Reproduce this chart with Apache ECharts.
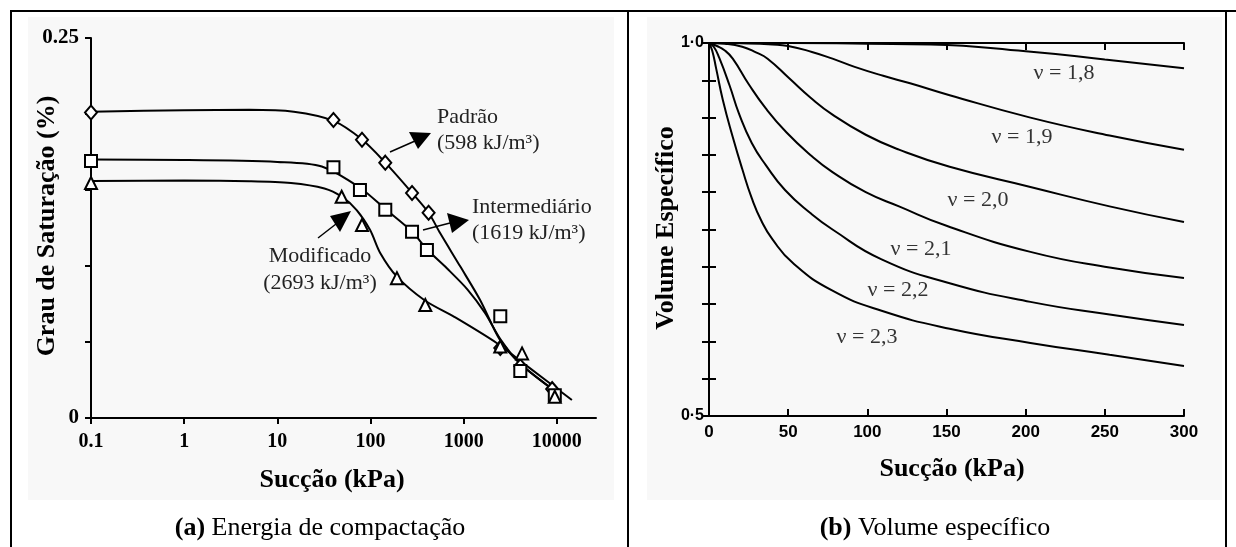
<!DOCTYPE html>
<html><head><meta charset="utf-8">
<script src="https://cdn.jsdelivr.net/npm/echarts@6/dist/echarts.min.js"></script>
<style>html,body{margin:0;padding:0;background:#fff}#c{width:1236px;height:547px}</style>
</head><body><div id="c"></div>
<script>
// ---------- Panel (a): Energia de compactação ----------
const padraoPts = [[0.1,0.201],[40,0.196],[81,0.183],[144,0.168],[279,0.148],[420,0.135],[2470,0.046],[4050,0.034],[8900,0.019]];
const intermPts = [[0.1,0.169],[40,0.165],[77,0.150],[144,0.137],[279,0.1226],[403,0.1105],[2470,0.067],[4050,0.031],[9500,0.015]];
const modifPts  = [[0.1,0.1546],[49,0.1456],[81,0.127],[192,0.092],[387,0.0743],[2470,0.047],[4230,0.0425],[9500,0.014]];
const padraoCurve = [[0.1,0.2015],[1,0.2025],[5,0.2028],[15,0.2015],[40,0.1955],[80,0.1835],[144,0.168],[280,0.148],[420,0.135],[560,0.1215],[920,0.0996],[1500,0.0776],[2470,0.051],[4000,0.036],[8900,0.019],[11000,0.016]];
const intermCurve = [[0.1,0.170],[1,0.1698],[10,0.1685],[30,0.1655],[77,0.1515],[144,0.1375],[280,0.1225],[403,0.111],[660,0.0985],[1100,0.0845],[1700,0.069],[2470,0.052],[4000,0.036],[9000,0.019],[11000,0.016]];
const modifCurve  = [[0.1,0.156],[1,0.1562],[5,0.1558],[14,0.1546],[32,0.151],[49,0.1456],[71,0.1368],[99,0.1237],[127,0.1086],[192,0.093],[380,0.0775],[800,0.0664],[2300,0.049],[5000,0.0333],[14500,0.0118]];
const leftYTickLabels = {0:'0', 0.25:'0.25'};

// ---------- Panel (b): Volume específico ----------
const nuNames = ['ν = 1,8','ν = 1,9','ν = 2,0','ν = 2,1','ν = 2,2','ν = 2,3'];
const nu18 = [[0,1],[50,1.0],[100,0.999],[140,0.998],[200,0.989],[250,0.978],[300,0.966]];
const nu19 = [[0,1],[20,0.9995],[40,0.998],[50,0.996],[65,0.988],[78,0.979],[92,0.968],[110,0.956],[127,0.946],[152,0.93],[203,0.90],[253,0.876],[300,0.857]];
const nu20 = [[0,1],[10,0.999],[21,0.995],[30,0.987],[37,0.979],[51,0.952],[64,0.927],[78,0.904],[99,0.877],[120,0.857],[152,0.834],[203,0.807],[253,0.781],[300,0.76]];
const nu21 = [[0,1],[5,0.996],[10,0.99],[15,0.979],[25,0.945],[36,0.912],[49,0.88],[64,0.85],[78,0.827],[99,0.80],[120,0.781],[150,0.755],[203,0.72],[253,0.699],[300,0.685]];
const nu22 = [[0,1],[3,0.995],[6.5,0.98],[13,0.943],[19,0.905],[27,0.866],[36,0.836],[48,0.803],[64,0.772],[78,0.75],[109,0.71],[152,0.678],[203,0.653],[253,0.636],[300,0.622]];
const nu23 = [[0,1],[2,0.99],[4.5,0.966],[8.7,0.924],[15,0.874],[21,0.831],[27,0.792],[33,0.762],[40,0.737],[53,0.705],[78,0.668],[109,0.641],[152,0.617],[203,0.598],[253,0.582],[300,0.567]];
const rightYTickLabels = {0.5:'0·5', 1:'1·0'};

const chart = echarts.init(document.getElementById('c'));
const serif = "'Liberation Serif', 'Times New Roman', serif";
const sans = "'Liberation Sans', Arial, sans-serif";
const blk = '#000';

function lineS(data, xi, yi, smooth) {
  return {type:'line', xAxisIndex:xi, yAxisIndex:yi, data, showSymbol:false, symbol:'none',
    smooth: smooth, lineStyle:{color:blk, width:2}, z:3, silent:true, animation:false};
}
function scatS(data, sym, size) {
  return {type:'scatter', xAxisIndex:0, yAxisIndex:0, data, symbol:sym, symbolSize:size,
    itemStyle:{color:'#fff', borderColor:blk, borderWidth:2, opacity:1}, z:5, silent:true, animation:false};
}
function lab(t, map) {
  for (const k in map) if (Math.abs(t - Number(k)) < 1e-9) return map[k];
  return '';
}

const nuLabelPos = [[1064,73],[1022,137],[978,200],[921,249],[898,290],[867,337]];

const graphics = [
  {type:'rect', shape:{x:28,y:17,width:586,height:483}, style:{fill:'#f8f8f8'}, z:-10},
  {type:'rect', shape:{x:647,y:17,width:575,height:483}, style:{fill:'#f8f8f8'}, z:-10},
  {type:'line', shape:{x1:10,y1:11,x2:1236,y2:11}, style:{stroke:blk, lineWidth:2}},
  {type:'line', shape:{x1:11,y1:10,x2:11,y2:547}, style:{stroke:blk, lineWidth:2}},
  {type:'line', shape:{x1:628,y1:10,x2:628,y2:547}, style:{stroke:blk, lineWidth:2}},
  {type:'line', shape:{x1:1226,y1:10,x2:1226,y2:547}, style:{stroke:blk, lineWidth:2}},
  // axis titles
  {type:'text', x:47, y:226, rotation:Math.PI/2, style:{text:'Grau de Saturação (%)', font:"bold 26px "+serif, fill:blk, textAlign:'center', textVerticalAlign:'middle'}},
  {type:'text', x:332, y:480, style:{text:'Sucção (kPa)', font:"bold 26px "+serif, fill:blk, textAlign:'center', textVerticalAlign:'middle'}},
  {type:'text', x:666, y:228, rotation:Math.PI/2, style:{text:'Volume Específico', font:"bold 26px "+serif, fill:blk, textAlign:'center', textVerticalAlign:'middle'}},
  {type:'text', x:952, y:469, style:{text:'Sucção (kPa)', font:"bold 26px "+serif, fill:blk, textAlign:'center', textVerticalAlign:'middle'}},
  // captions
  {type:'text', x:320, y:528, style:{text:'{b|(a)} Energia de compactação', font:"26px "+serif, fill:blk, textAlign:'center', textVerticalAlign:'middle', rich:{b:{fontWeight:'bold', fontSize:26, fontFamily:serif}}}},
  {type:'text', x:935, y:528, style:{text:'{b|(b)} Volume específico', font:"26px "+serif, fill:blk, textAlign:'center', textVerticalAlign:'middle', rich:{b:{fontWeight:'bold', fontSize:26, fontFamily:serif}}}},
  // annotations panel (a)
  {type:'text', x:437, y:117, style:{text:'Padrão', font:"22px "+serif, fill:'#222', textAlign:'left', textVerticalAlign:'middle'}},
  {type:'text', x:437, y:143, style:{text:'(598 kJ/m³)', font:"22px "+serif, fill:'#222', textAlign:'left', textVerticalAlign:'middle'}},
  {type:'text', x:472, y:207, style:{text:'Intermediário', font:"22px "+serif, fill:'#222', textAlign:'left', textVerticalAlign:'middle'}},
  {type:'text', x:472, y:233, style:{text:'(1619 kJ/m³)', font:"22px "+serif, fill:'#222', textAlign:'left', textVerticalAlign:'middle'}},
  {type:'text', x:320, y:256, style:{text:'Modificado', font:"22px "+serif, fill:'#222', textAlign:'center', textVerticalAlign:'middle'}},
  {type:'text', x:320, y:283, style:{text:'(2693 kJ/m³)', font:"22px "+serif, fill:'#222', textAlign:'center', textVerticalAlign:'middle'}},
  {type:'line', shape:{x1:390,y1:152,x2:415,y2:141}, style:{stroke:blk, lineWidth:1.5}},
  {type:'polygon', shape:{points:[[409,132],[431,133],[418,149]]}, style:{fill:blk}},
  {type:'line', shape:{x1:423,y1:230,x2:450,y2:223}, style:{stroke:blk, lineWidth:1.5}},
  {type:'polygon', shape:{points:[[447,213],[469,220],[452,233]]}, style:{fill:blk}},
  {type:'line', shape:{x1:318,y1:238,x2:336,y2:224}, style:{stroke:blk, lineWidth:1.5}},
  {type:'polygon', shape:{points:[[330,216],[351,211],[340,232]]}, style:{fill:blk}}
];
nuNames.forEach((n,i)=>{
  graphics.push({type:'text', x:nuLabelPos[i][0], y:nuLabelPos[i][1], style:{text:n, font:"22px "+serif, fill:'#333', textAlign:'center', textVerticalAlign:'middle'}});
});

const axLine = {show:true, lineStyle:{color:blk, width:2}};
chart.setOption({
  animation:false,
  backgroundColor:'#fff',
  grid:[
    {left:91, top:38, width:505, height:380, outerBoundsMode:'none', containLabel:false},
    {left:709, top:43, width:475, height:373, outerBoundsMode:'none', containLabel:false}
  ],
  xAxis:[
    {type:'log', gridIndex:0, logBase:10, min:0.1, max:26300, axisLine:axLine,
     axisTick:{show:true, inside:false, length:6, lineStyle:{color:blk, width:2}},
     axisLabel:{margin:14, color:blk, fontFamily:serif, fontWeight:'bold', fontSize:20,
       formatter:v => v < 1 ? v.toFixed(1) : String(Math.round(v))},
     splitLine:{show:false}, minorTick:{show:false}},
    {type:'value', gridIndex:1, min:0, max:300, interval:50, axisLine:axLine,
     axisTick:{show:true, inside:true, length:7, lineStyle:{color:blk, width:2}},
     axisLabel:{margin:8, color:blk, fontFamily:sans, fontWeight:'bold', fontSize:17},
     splitLine:{show:false}},
    {type:'value', gridIndex:1, position:'top', min:0, max:300, interval:50, axisLine:axLine,
     axisTick:{show:true, inside:true, length:7, lineStyle:{color:blk, width:2}},
     axisLabel:{show:false}, splitLine:{show:false}}
  ],
  yAxis:[
    {type:'value', gridIndex:0, min:0, max:0.25, interval:0.05, axisLine:axLine,
     axisTick:{show:true, inside:false, length:6, lineStyle:{color:blk, width:2}},
     axisLabel:{margin:12, color:blk, fontFamily:serif, fontWeight:'bold', fontSize:21,
       formatter:v => lab(v, leftYTickLabels)},
     splitLine:{show:false}},
    {type:'value', gridIndex:1, min:0.5, max:1.0, interval:0.05, axisLine:axLine,
     axisTick:{show:true, inside:true, length:7, lineStyle:{color:blk, width:2}},
     axisLabel:{margin:5, color:blk, fontFamily:sans, fontWeight:'bold', fontSize:16,
       formatter:v => lab(v, rightYTickLabels)},
     splitLine:{show:false}},
    {type:'value', gridIndex:1, position:'right', min:0.5, max:1.0, interval:0.05, axisLine:axLine,
     axisTick:{show:true, inside:true, length:7, lineStyle:{color:blk, width:2}},
     axisLabel:{show:false}, splitLine:{show:false}}
  ],
  series:[
    lineS(padraoCurve,0,0,0.3),
    lineS(intermCurve,0,0,0.3),
    lineS(modifCurve,0,0,0.3),
    scatS(padraoPts,'diamond',[12,14]),
    scatS(intermPts,'rect',12),
    scatS(modifPts,'triangle',12),
    lineS(nu18,1,1,0.5),
    lineS(nu19,1,1,0.5),
    lineS(nu20,1,1,0.5),
    lineS(nu21,1,1,0.5),
    lineS(nu22,1,1,0.5),
    lineS(nu23,1,1,0.5)
  ],
  graphic: graphics
});
</script>
</body></html>
